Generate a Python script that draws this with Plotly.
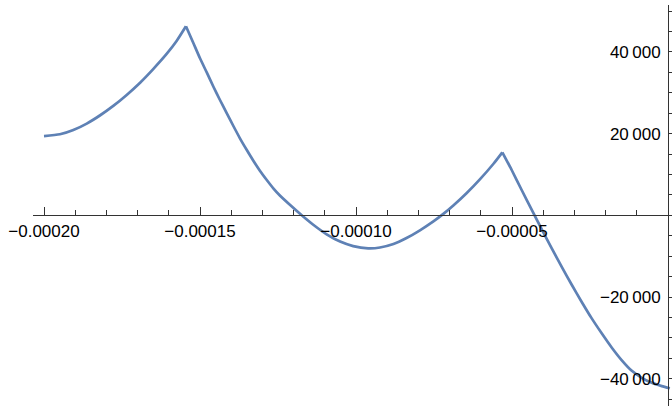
import plotly.graph_objects as go

# Segment 1: rising part up to first kink
seg1_x = [-0.0002000, -0.0001949, -0.0001906, -0.0001863, -0.0001821, -0.0001778,
          -0.0001735, -0.0001692, -0.0001650, -0.0001607, -0.0001575, -0.0001545]
seg1_y = [19390, 19830, 20880, 22450, 24430, 26780, 29470, 32460, 35790, 39490,
          42670, 46270]

# Segment 2: falling to the minimum, then rising to second kink
seg2_x = [-0.0001545, -0.0001521, -0.0001500, -0.0001478, -0.0001457, -0.0001436,
          -0.0001414, -0.0001393, -0.0001372, -0.0001350, -0.0001329, -0.0001308,
          -0.0001286, -0.0001265, -0.0001244, -0.0001211, -0.0001174, -0.0001137,
          -0.0001094, -0.0001051, -0.0001009, -0.0000961, -0.0000923, -0.0000880,
          -0.0000838, -0.0000795, -0.0000752, -0.0000720, -0.0000688, -0.0000645,
          -0.0000603, -0.0000560, -0.0000531]
seg2_y = [46270, 42110, 38430, 34910, 31480, 28230, 24970, 21860, 18850, 15990,
          13370, 10920, 8640, 6610, 4850, 2520, 20, -2300, -4650, -6440, -7540,
          -8080, -7880, -7030, -5560, -3670, -1490, 340, 2400, 5460, 8790, 12560,
          15420]

# Segment 3: falling part after second kink
seg3_x = [-0.0000531, -0.0000501, -0.0000469, -0.0000437, -0.0000405, -0.0000373,
          -0.0000341, -0.0000309, -0.0000277, -0.0000245, -0.0000212, -0.0000180,
          -0.0000148, -0.0000116, -0.0000084, -0.0000052, -0.0000020, 0.0000006]
seg3_y = [15420, 11090, 6190, 1370, -3380, -8030, -12560, -16940, -21150, -25170,
          -28940, -32410, -35500, -38070, -39780, -41010, -41810, -42330]

x_tickvals = [-0.00020, -0.00015, -0.00010, -0.00005]
x_ticktext = ["\u22120.00020", "\u22120.00015", "\u22120.00010", "\u22120.00005"]
y_tickvals = [-40000, -20000, 20000, 40000]
y_ticktext = ["\u221240\u2009000", "\u221220\u2009000", "20\u2009000", "40\u2009000"]

W, H = 672, 406
px_zero_x = 668.0
px_per_unit_x = 156.0 / 0.00005
px_zero_y = 215.3
px_per_unit_y = 81.7 / 20000

x_left_px = 33.0
x_range = [(x_left_px - px_zero_x) / px_per_unit_x, (W - px_zero_x) / px_per_unit_x]
y_top_px = 5.0
y_range = [(px_zero_y - H) / px_per_unit_y, (px_zero_y - y_top_px) / px_per_unit_y]

color = "#5E81B5"
fig = go.Figure()
for sx, sy in [(seg1_x, seg1_y), (seg2_x, seg2_y), (seg3_x, seg3_y)]:
    fig.add_trace(go.Scatter(x=sx, y=sy, mode="lines",
                             line=dict(color=color, width=2.7, shape="spline", smoothing=0.6),
                             showlegend=False, hoverinfo="skip", cliponaxis=False))

font = dict(family="Liberation Sans, Arial, sans-serif", size=17, color="black")
axis_color = "#333333"

fig.update_layout(
    width=W, height=H,
    margin=dict(l=0, r=0, t=0, b=0, pad=0, autoexpand=False),
    paper_bgcolor="white", plot_bgcolor="white",
    xaxis=dict(
        domain=[x_left_px / W, 1.0],
        range=x_range,
        anchor="free", position=(H - px_zero_y) / H,
        automargin=False,
        showline=True, linecolor=axis_color, linewidth=1,
        showgrid=False, zeroline=False,
        tickmode="array", tickvals=x_tickvals, ticktext=x_ticktext,
        ticks="inside", ticklen=8, tickcolor=axis_color, tickwidth=1,
        ticklabelstandoff=0,
        tickfont=font,
        minor=dict(dtick=0.00001, tick0=0, ticks="inside", ticklen=5,
                   tickcolor=axis_color, tickwidth=1, showgrid=False),
    ),
    yaxis=dict(
        domain=[0, 1 - y_top_px / H],
        range=y_range,
        anchor="free", position=px_zero_x / W,
        automargin=False,
        side="left",
        showline=True, linecolor=axis_color, linewidth=1,
        showgrid=False, zeroline=False,
        tickmode="array", tickvals=y_tickvals, ticktext=y_ticktext,
        ticks="inside", ticklen=8, tickcolor=axis_color, tickwidth=1,
        ticklabelstandoff=4,
        tickfont=font,
        minor=dict(dtick=5000, tick0=0, ticks="inside", ticklen=5,
                   tickcolor=axis_color, tickwidth=1, showgrid=False),
    ),
)

fig.write_html("out.html")
